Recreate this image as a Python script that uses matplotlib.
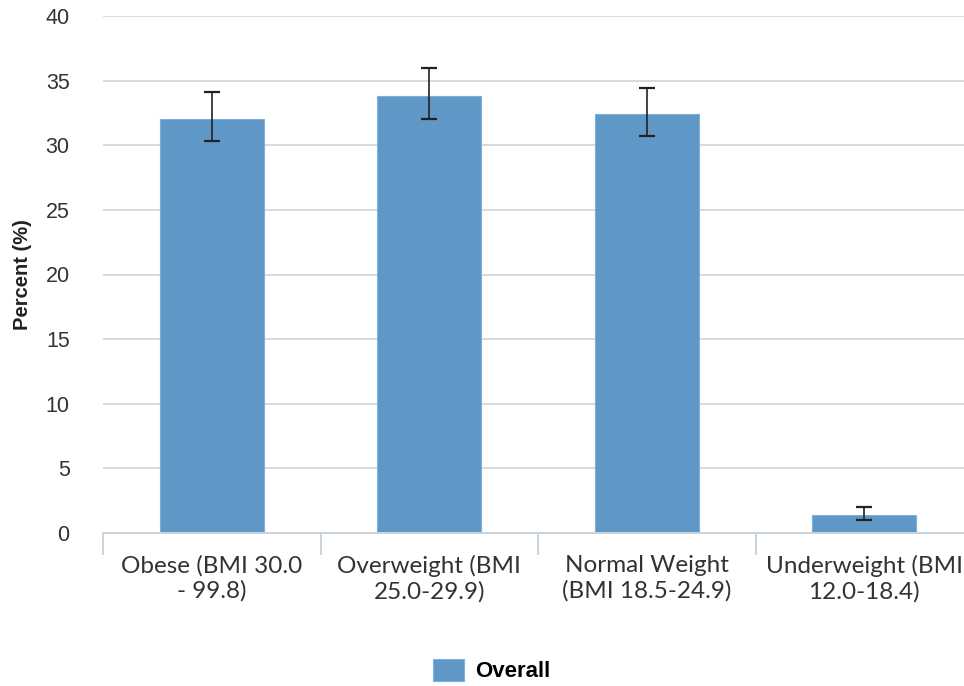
import matplotlib.pyplot as plt
import numpy as np

# Daten
categories = ["Obese (BMI 30.0\n- 99.8)", "Overweight (BMI\n25.0-29.9)",
              "Normal Weight\n(BMI 18.5-24.9)", "Underweight (BMI\n12.0-18.4)"]
values = [32.0, 33.8, 32.4, 1.4]
err_low = [30.3, 32.05, 30.7, 1.0]
err_high = [34.15, 35.95, 34.45, 2.0]

bar_color = '#5f97c6'

fig = plt.figure(figsize=(9.64, 6.86), dpi=100)
ax = fig.add_axes([103 / 964, 1 - 533 / 686, 870 / 964, 517 / 686])

x = np.arange(len(categories))
yerr = [np.array(values) - np.array(err_low), np.array(err_high) - np.array(values)]
ax.bar(x, values, width=0.48, color=bar_color, edgecolor='#7fb0d8', linewidth=0.8,
       label='Overall', zorder=2)
ax.errorbar(x, values, yerr=yerr, fmt='none', ecolor='#222222', elinewidth=1.2,
            capsize=6, capthick=1.6, zorder=3)

ax.set_xlim(-0.5, len(categories) - 0.5)
ax.set_ylim(0, 40)
ax.set_yticks(range(0, 41, 5))
ax.yaxis.grid(True, color='#d9d9d9', linewidth=1.4)
ax.set_axisbelow(True)
for s in ['top', 'right', 'left']:
    ax.spines[s].set_visible(False)
ax.spines['bottom'].set_color('#c9d3dc')
ax.spines['bottom'].set_linewidth(1.4)

# Y-Achse
ax.tick_params(axis='y', length=0, pad=24, labelsize=15.5, labelcolor='#333333')
for lbl in ax.get_yticklabels():
    lbl.set_family('Liberation Sans')
ax.set_ylabel("Percent (%)", fontsize=14.5, fontweight='bold', family='Liberation Sans',
              color='#222222', labelpad=10)

# X-Achse: Ticks zwischen den Kategorien
ax.set_xticks(x)
ax.set_xticklabels(categories, fontsize=17.5, family='Lato', color='#333333',
                   linespacing=1.2)
ax.tick_params(axis='x', length=0, pad=16)
ax.set_xticks(np.arange(-0.5, len(categories), 1), minor=True)
ax.tick_params(axis='x', which='minor', length=16, color='#c9d3dc', width=1.4)

fig.legend(loc='lower center', bbox_to_anchor=(0.51, -0.024), frameon=False,
           prop={'family': 'Liberation Sans', 'weight': 'bold', 'size': 16},
           handlelength=1.4, handleheight=1.1, handletextpad=0.5)

plt.savefig('out.png', dpi=100)
